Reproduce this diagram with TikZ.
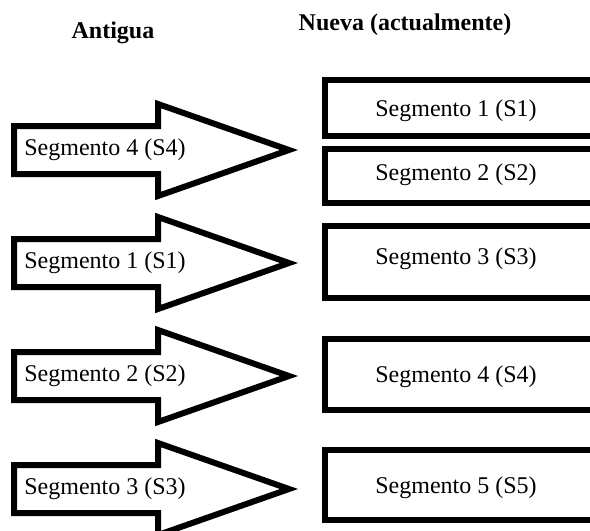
\documentclass[tikz,border=0pt]{standalone}
\usepackage{fontspec}
\setmainfont{Liberation Serif}
\begin{document}
\begin{tikzpicture}[x=1pt,y=-1pt,
  lbl/.style={font=\fontsize{24}{28}\selectfont, inner sep=0pt},
  hdr/.style={font=\bfseries\fontsize{24}{28}\selectfont, inner sep=0pt},
  bigarrow/.style={draw, line width=6pt, line join=miter},
  segbox/.style={draw, line width=5.5pt}]
\useasboundingbox (0,0) rectangle (590,531);
\clip (0,0) rectangle (590,531);
% headers
\node[hdr] (hold) at (113,33) {Antigua};
\node[hdr] (hnew) at (405,25) {Nueva (actualmente)};
% left arrows
\foreach \c/\t/\n in {150/4/a1, 263/1/a2, 376/2/a3, 489/3/a4}{
  \draw[bigarrow] (14,\c-24) -- (158,\c-24) -- (158,\c-46) -- (289,\c)
    -- (158,\c+46) -- (158,\c+24) -- (14,\c+24) -- cycle;
  \node[lbl] (\n) at (105,\c) {Segmento \t\ (S\t)};
}
% right boxes
\foreach \top/\bot/\t/\ty in {80/136/1/111, 149/203/2/175, 226/298/3/259, 339/410/4/377, 450/520/5/488}{
  \draw[segbox] (325,\top) rectangle (600,\bot);
  \node[lbl] (b\t) at (456,\ty) {Segmento \t\ (S\t)};
}
\end{tikzpicture}
\end{document}
